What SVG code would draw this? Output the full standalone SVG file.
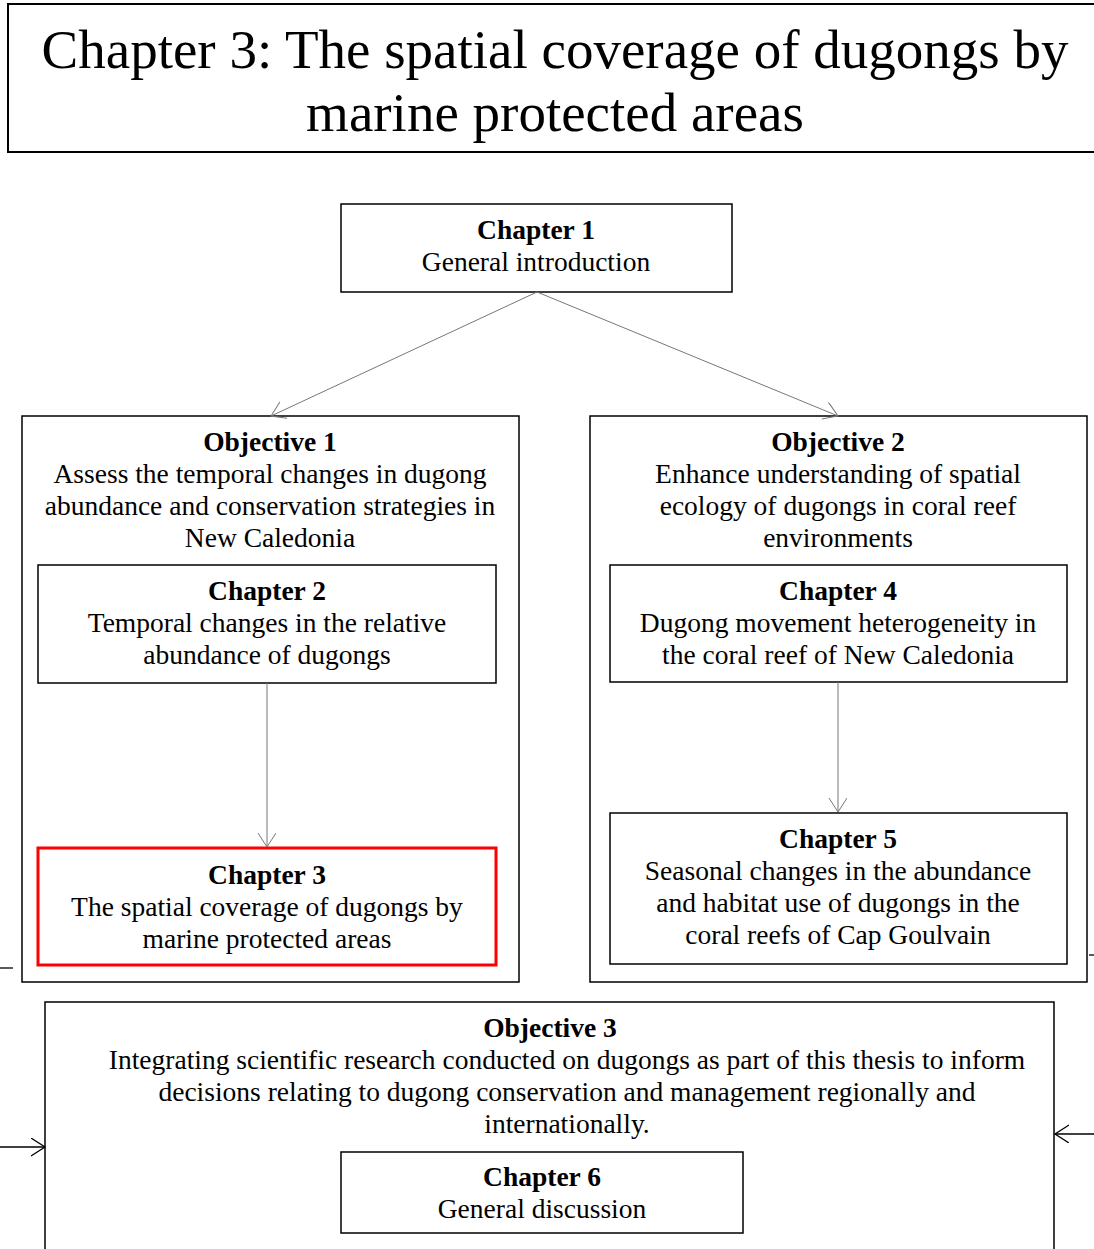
<svg xmlns="http://www.w3.org/2000/svg" width="1094" height="1249" viewBox="0 0 1094 1249">
<style>
text{font-family:"Liberation Serif","Times New Roman",serif;font-size:27.5px;fill:#000;text-anchor:middle}
.b{font-weight:bold}
.t{font-size:55px}
.box{fill:#fff;stroke:#000;stroke-width:1.5}
.red{fill:#fff;stroke:#f00;stroke-width:3}
.c{stroke:#777;stroke-width:1;fill:none}
.k{stroke:#000;stroke-width:1.3;fill:none}
</style>
<defs>
<marker id="ag" markerUnits="userSpaceOnUse" markerWidth="16" markerHeight="20" refX="14" refY="9" orient="auto" viewBox="0 0 16 20">
<path d="M0,0 L14,9 L0,18" fill="none" stroke="#777" stroke-width="1"/>
</marker>
<marker id="ak" markerUnits="userSpaceOnUse" markerWidth="16" markerHeight="20" refX="14" refY="9" orient="auto" viewBox="0 0 16 20">
<path d="M0,0 L14,9 L0,18" fill="none" stroke="#000" stroke-width="1.3"/>
</marker>
</defs>
<g id="header">
<rect x="8" y="4" width="1100" height="148" fill="#fff" stroke="#000" stroke-width="2"/>
<text class="t" x="555" y="68">Chapter 3: The spatial coverage of dugongs by</text>
<text class="t" x="555" y="131">marine protected areas</text>
</g>
<g id="objective1">
<rect class="box" x="22" y="416" width="497" height="566"/>
<text class="b" x="270" y="451">Objective 1</text>
<text x="270" y="483">Assess the temporal changes in dugong</text>
<text x="270" y="515">abundance and conservation strategies in</text>
<text x="270" y="547">New Caledonia</text>
</g>
<g id="objective2">
<rect class="box" x="590" y="416" width="497" height="566"/>
<text class="b" x="838" y="451">Objective 2</text>
<text x="838" y="483">Enhance understanding of spatial</text>
<text x="838" y="515">ecology of dugongs in coral reef</text>
<text x="838" y="547">environments</text>
</g>
<g id="objective3">
<rect class="box" x="45" y="1002" width="1009" height="260"/>
<text class="b" x="550" y="1037">Objective 3</text>
<text x="567" y="1069">Integrating scientific research conducted on dugongs as part of this thesis to inform</text>
<text x="567" y="1101">decisions relating to dugong conservation and management regionally and</text>
<text x="567" y="1133">internationally.</text>
</g>
<g id="chapter1">
<rect class="box" x="341" y="204" width="391" height="88"/>
<text class="b" x="536" y="239">Chapter 1</text>
<text x="536" y="271">General introduction</text>
</g>
<g id="chapter2">
<rect class="box" x="38" y="565" width="458" height="118"/>
<text class="b" x="267" y="600">Chapter 2</text>
<text x="267" y="632">Temporal changes in the relative</text>
<text x="267" y="664">abundance of dugongs</text>
</g>
<g id="chapter3">
<rect class="red" x="38" y="848" width="458" height="117"/>
<text class="b" x="267" y="884">Chapter 3</text>
<text x="267" y="916">The spatial coverage of dugongs by</text>
<text x="267" y="948">marine protected areas</text>
</g>
<g id="chapter4">
<rect class="box" x="610" y="565" width="457" height="117"/>
<text class="b" x="838" y="600">Chapter 4</text>
<text x="838" y="632">Dugong movement heterogeneity in</text>
<text x="838" y="664">the coral reef of New Caledonia</text>
</g>
<g id="chapter5">
<rect class="box" x="610" y="813" width="457" height="151"/>
<text class="b" x="838" y="848">Chapter 5</text>
<text x="838" y="880">Seasonal changes in the abundance</text>
<text x="838" y="912">and habitat use of dugongs in the</text>
<text x="838" y="944">coral reefs of Cap Goulvain</text>
</g>
<g id="chapter6">
<rect class="box" x="341" y="1152" width="402" height="81"/>
<text class="b" x="542" y="1186">Chapter 6</text>
<text x="542" y="1218">General discussion</text>
</g>
<g id="connectors">
<line class="c" x1="537" y1="292" x2="271" y2="416" marker-end="url(#ag)"/>
<line class="c" x1="537" y1="292" x2="838" y2="416" marker-end="url(#ag)"/>
<line class="c" x1="267" y1="683" x2="267" y2="847" marker-end="url(#ag)"/>
<line class="c" x1="838" y1="682" x2="838" y2="812" marker-end="url(#ag)"/>
<line class="k" x1="0" y1="968" x2="13" y2="968"/>
<line class="k" x1="1089" y1="955" x2="1094" y2="955"/>
<line class="k" x1="0" y1="1147" x2="45" y2="1147" marker-end="url(#ak)"/>
<line class="k" x1="1094" y1="1134" x2="1055" y2="1134" marker-end="url(#ak)"/>
</g>
</svg>
